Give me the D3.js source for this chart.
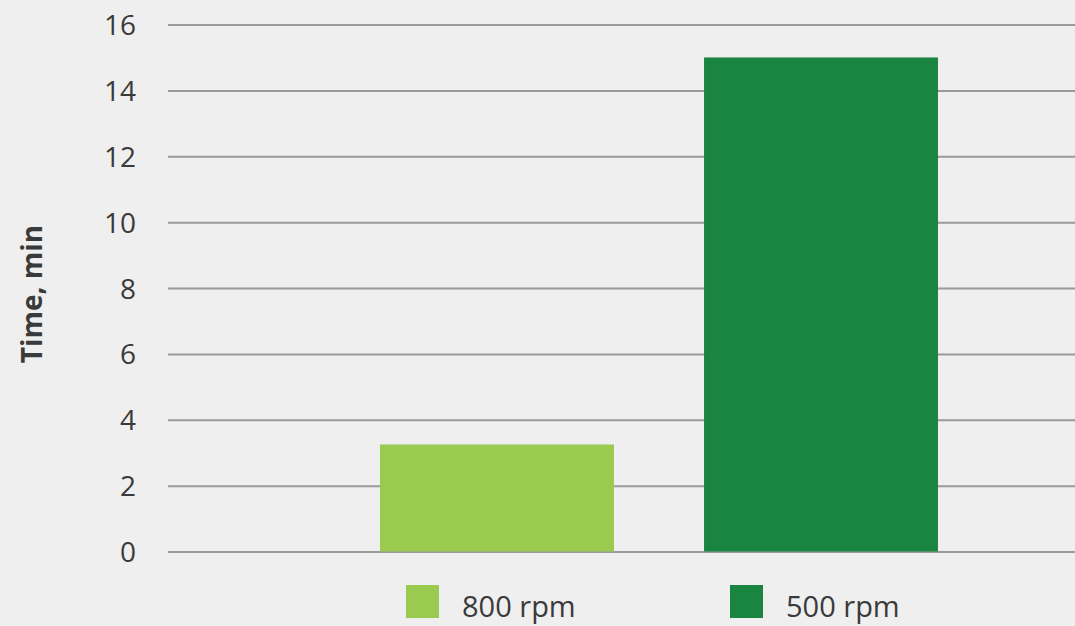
<!DOCTYPE html>
<html><head><meta charset="utf-8">
<script src="https://cdn.jsdelivr.net/npm/d3@7"></script>
<style>
html,body{margin:0;padding:0;background:#efefef;}
svg{display:block;}
svg text{font-family:"Open Sans","Noto Sans",sans-serif;}
</style></head>
<body><svg id="c" width="1075" height="626"></svg>
<script>
const series = ["800 rpm", "500 rpm"];
const values = [3.25, 15];
const colors = ["#9aca4f", "#1a8441"];
const yTicks = [0, 2, 4, 6, 8, 10, 12, 14, 16];
const yTitle = "Time, min";

const svg = d3.select("#c");
svg.append("rect").attr("width",1075).attr("height",626).attr("fill","#efefef");

const y = d3.scaleLinear().domain([0,16]).range([551.5,24.5]);
const x = d3.scaleBand().domain(series).range([335,983]).paddingInner(0.278).paddingOuter(0.139);

const yAxis = d3.axisLeft(y).tickValues(yTicks).tickSize(-907).tickPadding(32);
const gA = svg.append("g").attr("transform","translate(168,0)").call(yAxis)
  .attr("font-family","Open Sans").attr("font-size",28);
gA.select(".domain").remove();
gA.selectAll(".tick line").attr("stroke","#9a9a9a").attr("stroke-width",2);
gA.selectAll(".tick text").attr("fill","#3a3a3a").attr("font-size",28).attr("dy","0.36em");

svg.append("g").selectAll("rect").data(series).join("rect")
  .attr("x",d=>x(d)).attr("width",x.bandwidth())
  .attr("y",(d,i)=>y(values[i])).attr("height",(d,i)=>y(0)-y(values[i]))
  .attr("fill",(d,i)=>colors[i]);

svg.append("text").attr("transform","translate(42,294) rotate(-90)")
  .attr("text-anchor","middle").attr("font-size",28).attr("font-weight","bold")
  .attr("fill","#3a3a3a").text(yTitle);

const legX = [406, 730];
const lg = svg.append("g").selectAll("g").data(series).join("g")
  .attr("transform",(d,i)=>`translate(${legX[i]},585)`);
lg.append("rect").attr("width",33).attr("height",33).attr("fill",(d,i)=>colors[i]);
lg.append("text").attr("x",56).attr("y",32).attr("font-size",29).attr("fill","#3a3a3a").text(d=>d);
</script></body></html>
